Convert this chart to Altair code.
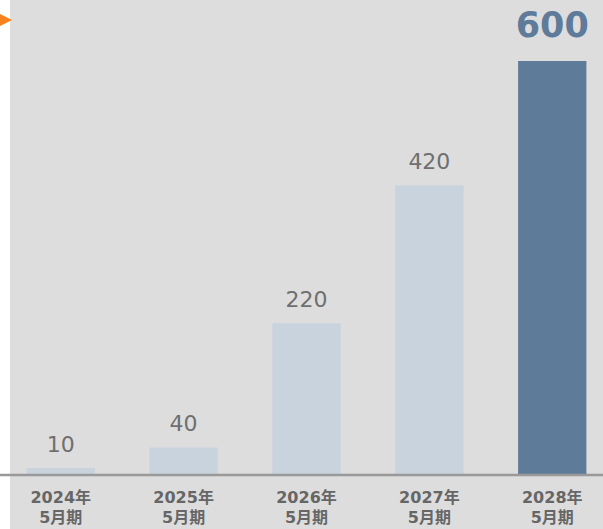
import altair as alt
import pandas as pd

periods = ["2024年\n5月期", "2025年\n5月期", "2026年\n5月期", "2027年\n5月期", "2028年\n5月期"]
values = [10, 40, 220, 420, 600]
highlight = "2028年\n5月期"

df = pd.DataFrame({"period": periods, "value": values})
df["hl"] = df["period"] == highlight

W, H = 593, 475
ymax = 600 * H / 414.0

x = alt.X("period:N", sort=None,
          scale=alt.Scale(paddingInner=0.444, paddingOuter=0.135),
          axis=alt.Axis(title=None, domain=False, ticks=False, labelAngle=0,
                        labelExpr="split(datum.label, '\\n')",
                        labelFont="DejaVu Sans, Noto Sans CJK JP", labelFontSize=16,
                        labelFontWeight="bold", labelColor="#666666",
                        labelLineHeight=20, labelPadding=14, labelBaseline="top"))
y = alt.Y("value:Q", scale=alt.Scale(domain=[0, ymax], nice=False), axis=None)

base = alt.Chart(df)

bars = base.mark_bar().encode(
    x=x, y=y,
    color=alt.condition("datum.hl", alt.value("#5e7b9a"), alt.value("#c8d3de")),
)

labels = base.transform_filter("!datum.hl").mark_text(
    dy=-16, baseline="alphabetic", font="DejaVu Sans", fontSize=22, color="#6f6f6f"
).encode(x=x, y=y, text="value:Q")

big = base.transform_filter("datum.hl").mark_text(
    dy=-24, baseline="alphabetic", font="DejaVu Sans", fontSize=35, fontWeight="bold",
    color="#5e7b9a"
).encode(x=x, y=y, text="value:Q")

strip = alt.Chart(pd.DataFrame({"a": [0]})).mark_rect(color="white").encode(
    x=alt.value(-10), x2=alt.value(0), y=alt.value(0), y2=alt.value(529))

rule = alt.Chart(pd.DataFrame({"a": [0]})).mark_rule(color="#999999", strokeWidth=2.5).encode(
    x=alt.value(-10), x2=alt.value(W), y=alt.datum(0, type="quantitative", scale=alt.Scale(domain=[0, ymax], nice=False)))

tri = alt.Chart(pd.DataFrame({"a": [0]})).mark_point(
    shape="M-1,-1L1,0L-1,1Z", filled=True, color="#f7821e", opacity=1, size=150
).encode(x=alt.value(-4), y=alt.value(20))

chart = alt.layer(strip, bars, labels, big, rule, tri).properties(
    width=W, height=H,
    background="#dddddd",
    padding={"left": 10, "top": 0, "right": 0, "bottom": 54},
    autosize=alt.AutoSizeParams(type="none"),
).configure_view(stroke=None)

chart.save("out.html", embed_options={"renderer": "svg", "actions": False})
